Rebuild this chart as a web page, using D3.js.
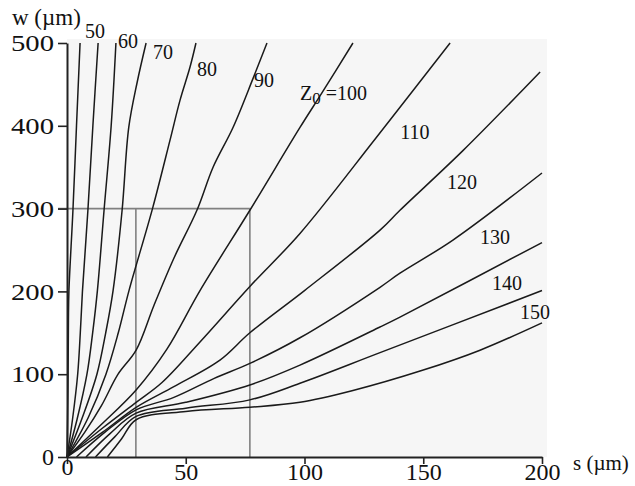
<!DOCTYPE html>
<html>
<head>
<meta charset="utf-8">
<script src="https://cdn.jsdelivr.net/npm/d3@7"></script>
<style>
  body { margin: 0; background: #fff; }
  text { font-family: "Liberation Serif", "Times New Roman", serif; fill: #111; }
</style>
</head>
<body>
<div id="chart"></div>
<script>
// axis ticks
const sTicks = [0, 50, 100, 150, 200];
const wTicks = [0, 100, 200, 300, 400, 500];

// design box (s from 29 to 77 um, w up to 300 um)
const boxS = [29, 77];
const boxW = 300;

// contour lines, [s, w] in um
const zA   = [[0, 0], [0.4, 80], [0.6, 165], [0.8, 200], [2.5, 298], [4, 400], [5.5, 500]];
const z50  = [[0, 0], [2.3, 45], [4.5, 100], [5.6, 150], [6.5, 200], [8.8, 298], [10.9, 400], [13.1, 500]];
const z60  = [[0, 0], [4.2, 45], [8.4, 100], [10.8, 150], [12.8, 201], [15.6, 298], [18.6, 400], [20.6, 500]];
const z70  = [[0, 0], [6.5, 48], [12.6, 100], [16.3, 150], [19.4, 201], [23.2, 298], [26, 398], [29.5, 452], [33.3, 500]];
const z80  = [[0, 0], [9, 48], [16.4, 100], [21.6, 150], [26.1, 201], [36, 300], [43.4, 383], [47.6, 431], [51.8, 471], [54.3, 500]];
const z90  = [[0, 0], [7.5, 30], [14.5, 62], [21.5, 100], [29.1, 129], [36.6, 183], [45, 240], [54.7, 298], [61.5, 350], [69.9, 398], [78.3, 457], [84.2, 500]];
const z100 = [[0, 0], [14, 38], [29.1, 81], [42, 130], [56, 201], [77, 298], [98.1, 398], [107.4, 440], [120.4, 500]];
const z110 = [[0, 0], [15, 35], [29.1, 66], [40, 90], [56, 139], [77, 206], [98.1, 270], [130, 385], [161.3, 500]];
const z120 = [[0, 0], [15, 30], [29.1, 60], [45, 85], [64.4, 117], [77, 150], [100, 201], [131.8, 274], [140.2, 298], [166.7, 370], [199.2, 465]];
const z130 = [[4, 0], [16, 30], [29.1, 57], [45, 72], [62, 95], [77, 113], [98.1, 144], [131.8, 205], [140.2, 222], [162.5, 262], [200, 343]];
const z140 = [[8, 0], [18, 28], [29.1, 53], [50, 66], [77, 87], [98.1, 111], [131.8, 157], [140.2, 169], [200, 259]];
const z150 = [[12, 0], [20, 24], [29.1, 49], [50, 59], [77, 69], [98.1, 89], [131.8, 126], [200, 201]];
const z160 = [[17, 0], [23, 22], [29.1, 45], [50, 55], [77, 60], [98.1, 66], [120, 80], [150, 105], [173.9, 129], [200, 162]];

const contours = [zA, z50, z60, z70, z80, z90, z100, z110, z120, z130, z140, z150, z160];

// contour labels: text and where it sits, [s, w]
const labelText = ["50", "60", "70", "80", "90", "110", "120", "130", "140", "150"];
const labelAt = [[11.8, 515], [25.7, 503], [40.4, 489], [58.9, 469], [82.9, 455],
                 [146.5, 392], [166.3, 332], [180.2, 265.5], [185.3, 210], [197, 175]];
const z0LabelAt = [98.1, 440];

const width = 635, height = 486;

const svg = d3.select("#chart").append("svg")
    .attr("width", width)
    .attr("height", height);

const x = d3.scaleLinear().domain([0, 200]).range([67, 542]);
const y = d3.scaleLinear().domain([0, 500]).range([457, 43]);

// plot background
svg.append("rect")
    .attr("x", x(0))
    .attr("y", y(500) - 4)
    .attr("width", x(200) - x(0) + 5)
    .attr("height", y(0) - y(500) + 4)
    .attr("fill", "#f6f6f6");

// gray box
const boxColor = "#808080";
svg.append("line")
    .attr("x1", x(0) - 9).attr("x2", x(boxS[1]))
    .attr("y1", y(boxW)).attr("y2", y(boxW))
    .attr("stroke", boxColor).attr("stroke-width", 1.6);
boxS.forEach(s => {
    svg.append("line")
        .attr("x1", x(s)).attr("x2", x(s))
        .attr("y1", y(boxW)).attr("y2", y(0))
        .attr("stroke", boxColor).attr("stroke-width", 1.6);
});

// contour lines
const line = d3.line()
    .x(d => x(d[0]))
    .y(d => y(d[1]))
    .curve(d3.curveCatmullRom.alpha(0.5));

svg.append("g")
    .selectAll("path")
    .data(contours)
    .enter()
    .append("path")
    .attr("d", line)
    .attr("fill", "none")
    .attr("stroke", "#1a1a1a")
    .attr("stroke-width", 1.5);

// axes
const yAxis = svg.append("g")
    .attr("transform", `translate(${x(0)},0)`)
    .call(d3.axisLeft(y).tickValues(wTicks).tickSize(9).tickSizeOuter(0).tickPadding(4));

const xAxis = svg.append("g")
    .attr("transform", `translate(0,${y(0)})`)
    .call(d3.axisBottom(x).tickValues(sTicks).tickSize(7).tickSizeOuter(0).tickPadding(4));

[yAxis, xAxis].forEach(g => {
    g.select(".domain").attr("stroke", "#222").attr("stroke-width", 2);
    g.selectAll(".tick line").attr("stroke", "#222").attr("stroke-width", 1.6);
    g.selectAll(".tick text")
        .style("font-family", '"Liberation Serif", "Times New Roman", serif')
        .style("font-size", "24px")
        .attr("fill", "#111");
});

// left labels are drawn wider in the original
yAxis.selectAll(".tick text")
    .attr("x", -13)
    .filter(d => d > 0)
    .attr("textLength", 43)
    .attr("lengthAdjust", "spacingAndGlyphs");
xAxis.selectAll(".tick text").attr("y", 6);
xAxis.selectAll(".tick text").filter(d => d === 0).attr("y", 1);

// axis titles
svg.append("text")
    .attr("x", 12)
    .attr("y", 25)
    .style("font-size", "23px")
    .text("w (µm)");

svg.append("text")
    .attr("x", 573)
    .attr("y", 470)
    .style("font-size", "21px")
    .text("s (µm)");

// contour labels
svg.append("g")
    .selectAll("text")
    .data(labelText)
    .enter()
    .append("text")
    .attr("x", (d, i) => x(labelAt[i][0]))
    .attr("y", (d, i) => y(labelAt[i][1]))
    .attr("text-anchor", "middle")
    .attr("dominant-baseline", "central")
    .style("font-size", "20px")
    .text(d => d);

const z0 = svg.append("text")
    .attr("x", x(z0LabelAt[0]))
    .attr("y", y(z0LabelAt[1]))
    .attr("dominant-baseline", "central")
    .style("font-size", "20px");
z0.append("tspan").text("Z");
z0.append("tspan").attr("dy", 5).style("font-size", "17px").text("0");
z0.append("tspan").attr("dy", -5).text(" =100");
</script>
</body>
</html>
